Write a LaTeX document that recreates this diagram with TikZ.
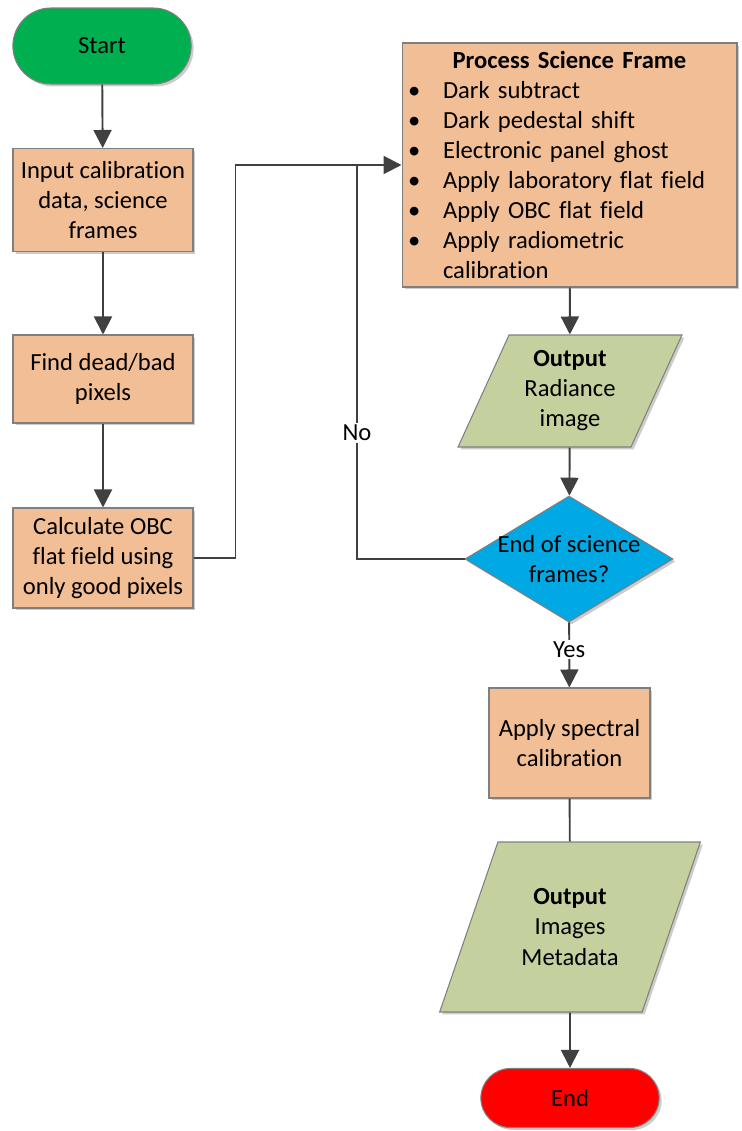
\documentclass[tikz,border=0pt]{standalone}
\usepackage{fontspec}
\setmainfont{Carlito}[Ligatures=CommonOff]
\usepackage{tikz}
\usetikzlibrary{arrows.meta}
\usetikzlibrary{shapes.geometric}
\usetikzlibrary{shapes.misc}
\usetikzlibrary{shadows}
\definecolor{procfill}{HTML}{F1BE96}
\definecolor{iofill}{HTML}{C4D19F}
\definecolor{decfill}{HTML}{00A8E4}
\definecolor{startfill}{HTML}{00B050}
\definecolor{endfill}{HTML}{FF0000}
\definecolor{boxline}{HTML}{7F7F7F}
\definecolor{conn}{HTML}{404040}
\tikzset{shad/.style={drop shadow={shadow xshift=0.05cm, shadow yshift=-0.05cm, opacity=0.2, fill=black}}}
\tikzset{proc/.style={draw=boxline, line width=0.6pt, fill=procfill, align=center, shad}}
\tikzset{io/.style={trapezium, trapezium stretches=true, draw=boxline, line width=0.6pt, fill=iofill, align=center, shad}}
\tikzset{term/.style={rounded rectangle, draw=boxline, line width=0.6pt, shad}}
\tikzset{dec/.style={diamond, draw=boxline, line width=0.6pt, fill=decfill, inner sep=0pt, shad}}
\tikzset{wire/.style={draw=conn, line width=1.1pt}}
\tikzset{lbl/.style={fill=white, inner sep=1pt}}
\newcommand\bul[1]{\par\noindent\hbox to 0.82cm{\hskip0.12cm\textbullet\hfil}#1}

\begin{document}
\begin{tikzpicture}[x=0.02cm, y=-0.02cm, font=\fontsize{14}{17.1}\selectfont,
    >={Triangle[length=0.36cm,width=0.36cm]}, every edge/.append style={wire}]
    \useasboundingbox (0,0) rectangle (741,1131);
    % left column
    \node (start) [term, fill=startfill, minimum width=3.8cm, minimum height=1.52cm] at (102,46) {Start};
    \node (input) [proc, minimum width=3.6cm, minimum height=2.06cm] at (103,200)
      {Input calibration\\data, science\\frames}
      edge [<-] (start);
    \node (dead) [proc, minimum width=3.6cm, minimum height=1.76cm] at (103,379)
      {Find dead/bad\\pixels}
      edge [<-] (input);
    \node (obc) [proc, minimum width=3.6cm, minimum height=2cm] at (103,558)
      {Calculate OBC\\flat field using\\only good pixels}
      edge [<-] (dead);
    % right column
    \node (frame) [proc, align=left, text width=6.7cm, inner sep=0pt, minimum height=4.88cm] at (569.5,165)
      {{\centering\textbf{Process Science Frame}\par}
       \bul{Dark subtract}
       \bul{Dark pedestal shift}
       \bul{Electronic panel ghost}
       \bul{Apply laboratory flat field}
       \bul{Apply OBC flat field}
       \bul{Apply radiometric}
       \par\noindent\hskip0.82cm calibration};
    \node (rad) [io, trapezium left angle=65, trapezium right angle=115,
      minimum width=4.48cm, minimum height=2.24cm] at (570,391)
      {\textbf{Output}\\Radiance\\image}
      edge [<-] (frame);
    \node (last) [dec, minimum width=4.16cm, minimum height=2.52cm,
      label={[align=center]center:End of science\\frames?}] at (569,559) {}
      edge [<-] (rad);
    \node (spec) [proc, minimum width=3.22cm, minimum height=2.2cm] at (569.5,743)
      {Apply spectral\\calibration};
    \node (outimg) [io, trapezium left angle=63.5, trapezium right angle=116.5,
      minimum width=5.22cm, minimum height=3.4cm] at (570,927)
      {\textbf{Output}\\Images\\Metadata}
      edge (spec);
    \node (finish) [term, fill=endfill, minimum width=3.8cm, minimum height=1.18cm] at (570,1098) {End}
      edge [<-] (outimg);
    \coordinate (join) at (357,165);
    % loops
    \draw [wire, ->] (obc.east) -- ++(42,0) |- (frame.west);
    \draw [wire] (last.west) -| node [lbl, pos=0.66] {No} (join);
    \draw [wire, ->] (last) -- node [lbl, pos=0.42] {Yes} (spec);
\end{tikzpicture}
\end{document}
